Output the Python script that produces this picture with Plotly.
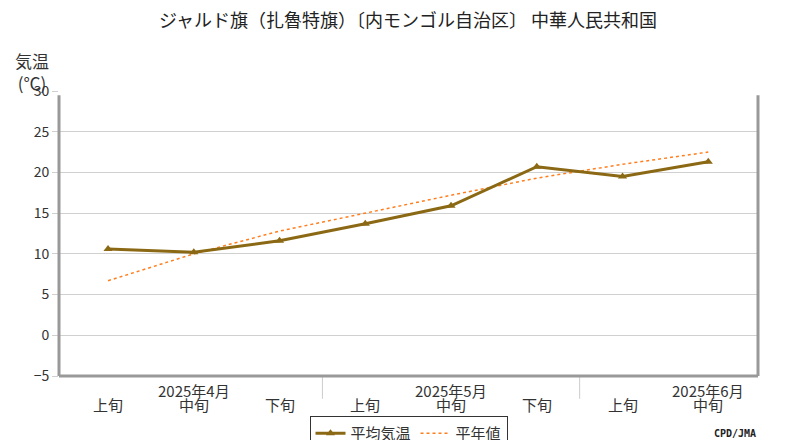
import plotly.graph_objects as go

x_idx = [0, 1, 2, 3, 4, 5, 6, 7]
dekad_labels = ["上旬", "中旬", "下旬", "上旬", "中旬", "下旬", "上旬", "中旬"]
month_labels = ["2025年4月", "2025年5月", "2025年6月"]
month_pos = [1, 4, 7]
mean_temp = [10.6, 10.2, 11.6, 13.7, 15.9, 20.7, 19.5, 21.3]
normal_temp = [6.7, 10.0, 12.8, 15.0, 17.2, 19.3, 21.0, 22.5]

FONT = "Noto Sans CJK JP"

fig = go.Figure()
fig.add_trace(go.Scatter(x=x_idx, y=normal_temp, mode="lines", name="平年値",
                         line=dict(color="#ff7f1e", width=1.5, dash="dot")))
fig.add_trace(go.Scatter(x=x_idx, y=mean_temp, mode="lines+markers", name="平均気温",
                         line=dict(color="#8b6914", width=3),
                         marker=dict(symbol="triangle-up", size=8, color="#8b6914")))

annotations = []
for i, lab in zip(x_idx, dekad_labels):
    annotations.append(dict(x=i, y=-5, xref="x", yref="y", text=lab, showarrow=False,
                            yshift=-28, font=dict(size=15, color="#333")))
for p, lab in zip(month_pos, month_labels):
    annotations.append(dict(x=p, y=-5, xref="x", yref="y", text=lab, showarrow=False,
                            yshift=-14, font=dict(size=15, color="#333")))
annotations.append(dict(x=0.0, y=1.0, xref="paper", yref="paper", text="気温<br>(℃)",
                        showarrow=False, xanchor="right", yanchor="bottom", xshift=-8,
                        yshift=-6, font=dict(size=17, color="#333"), align="center"))
annotations.append(dict(x=1.0, y=0, xref="paper", yref="paper", text="<b>CPD/JMA</b>",
                        showarrow=False, xanchor="right", yanchor="top", yshift=-50,
                        font=dict(size=10, color="#222", family="DejaVu Sans Mono")))

shapes = []
for sx in [2.5, 5.5]:
    shapes.append(dict(type="line", xref="x", yref="paper", x0=sx, x1=sx, y0=0, y1=-0.08,
                       line=dict(color="#ccc", width=1)))
# frame: left, bottom, right
shapes.append(dict(type="line", xref="paper", yref="paper", x0=0, x1=0, y0=0, y1=0.985,
                   line=dict(color="#999", width=3)))
shapes.append(dict(type="line", xref="paper", yref="paper", x0=0, x1=1, y0=0, y1=0,
                   line=dict(color="#999", width=3)))
shapes.append(dict(type="line", xref="paper", yref="paper", x0=1, x1=1, y0=0, y1=0.985,
                   line=dict(color="#999", width=3)))

fig.update_layout(
    width=800, height=440,
    margin=dict(l=51, r=50, t=83, b=72, autoexpand=False),
    paper_bgcolor="white", plot_bgcolor="white",
    font=dict(family=FONT, color="#333"),
    title=dict(text="ジャルド旗（扎魯特旗）〔内モンゴル自治区〕 中華人民共和国",
               x=0.5, xanchor="center", y=0.985, yanchor="top",
               font=dict(size=18, color="#222")),
    xaxis=dict(range=[-0.572, 7.58], showticklabels=False, showgrid=False,
               zeroline=False, fixedrange=True, automargin=False),
    yaxis=dict(range=[-5, 30], dtick=5, showgrid=True, gridcolor="#d0d0d0",
               zeroline=False, ticks="outside", ticklen=6, tickcolor="#d0d0d0",
               tickfont=dict(size=14, color="#333"), fixedrange=True, automargin=False),
    legend=dict(orientation="h", x=0.5, xanchor="center", y=-0.14, yanchor="top",
                bordercolor="#333", borderwidth=1, traceorder="reversed",
                font=dict(size=15, color="#333")),
    annotations=annotations, shapes=shapes, showlegend=True,
)

fig.write_html("out.html")
